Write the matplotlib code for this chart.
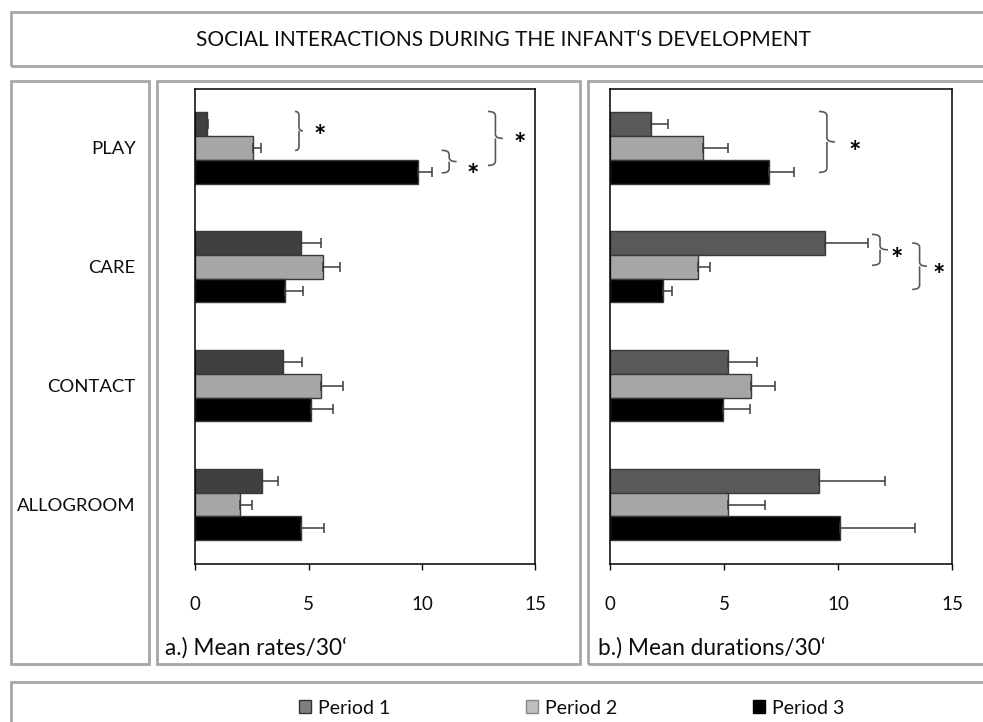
import matplotlib
matplotlib.use("Agg")
import matplotlib.pyplot as plt
from matplotlib.patches import Rectangle, Patch, PathPatch
from matplotlib.path import Path
import numpy as np

plt.rcParams['font.family'] = ['Lato', 'DejaVu Sans']

# ---------------- data ----------------
categories = ["PLAY", "CARE", "CONTACT", "ALLOGROOM"]
periods = ["Period 1", "Period 2", "Period 3"]

rates_p1 = [0.5, 4.65, 3.87, 2.93]
rates_p2 = [2.56, 5.63, 5.54, 1.96]
rates_p3 = [9.81, 3.97, 5.10, 4.65]
rates_err_p1 = [0.07, 0.89, 0.85, 0.72]
rates_err_p2 = [0.34, 0.77, 0.99, 0.54]
rates_err_p3 = [0.63, 0.79, 0.99, 1.03]

dur_p1 = [1.77, 9.40, 5.18, 9.15]
dur_p2 = [4.05, 3.83, 6.17, 5.18]
dur_p3 = [6.95, 2.31, 4.96, 10.06]
dur_err_p1 = [0.75, 1.92, 1.27, 2.88]
dur_err_p2 = [1.10, 0.54, 1.05, 1.59]
dur_err_p3 = [1.12, 0.41, 1.18, 3.29]

x_ticks = [0, 5, 10, 15]
title = "SOCIAL INTERACTIONS DURING THE INFANT\u2018S DEVELOPMENT"
panel_labels = ["a.) Mean rates/30\u2018", "b.) Mean durations/30\u2018"]

# significance braces: (category index, top offset, bottom offset, x_left, x_right, star_x, star_y_offset)
braces_a = [(0, -0.307, 0.021, 4.40, 4.75, 5.50, -0.172),
            (0, 0.020, 0.210, 10.87, 11.53, 12.25, 0.155),
            (0, -0.307, 0.147, 12.91, 13.57, 14.33, -0.105)]
braces_b = [(0, -0.307, 0.206, 9.15, 9.85, 10.73, -0.04),
            (1, -0.273, -0.013, 11.48, 12.18, 12.56, -0.139),
            (1, -0.200, 0.190, 13.24, 13.89, 14.42, -0.004)]

# ---------------- figure ----------------
W, H = 983, 722
fig = plt.figure(figsize=(W / 100, H / 100), dpi=100)
fig.patch.set_facecolor('white')

BOX_C = '#a6a6a6'
TXT_C = '#0d0d0d'


def box(x0, y0, x1, y1):
    fig.add_artist(Rectangle((x0 / W, 1 - y1 / H), (x1 - x0) / W, (y1 - y0) / H,
                             transform=fig.transFigure, fill=False,
                             edgecolor=BOX_C, linewidth=2.0, zorder=0))


box(10.5, 11.7, 995, 65.7)
box(10.5, 80.5, 148.8, 664.3)
box(156.7, 80.5, 580.0, 664.3)
box(588.3, 80.5, 995, 664.3)
box(10.5, 682.3, 995, 740)

fig.text(503.5 / W, 1 - 39.5 / H, title, ha='center', va='center', fontsize=15, color=TXT_C)


def axes_px(x0, y0, x1, y1):
    return fig.add_axes([x0 / W, 1 - y1 / H, (x1 - x0) / W, (y1 - y0) / H])


ax_a = axes_px(195.3, 88.5, 535.3, 564.0)
ax_b = axes_px(610.3, 88.5, 952.3, 564.0)

bar_h = 0.2
offsets = [-0.2, 0.0, 0.2]
ypos = np.arange(len(categories))


def brace(ax, y0, y1, xl, xr, color='#595959'):
    xm = (xl + xr) / 2
    ymid = (y0 + y1) / 2
    r = 0.035
    path = Path([(xl, y0), (xm, y0), (xm, y0 + r),
                 (xm, ymid - r), (xm, ymid), (xr, ymid),
                 (xm, ymid), (xm, ymid + r),
                 (xm, y1 - r), (xm, y1), (xl, y1)],
                [Path.MOVETO, Path.CURVE3, Path.CURVE3,
                 Path.LINETO, Path.CURVE3, Path.CURVE3,
                 Path.MOVETO, Path.LINETO,
                 Path.LINETO, Path.CURVE3, Path.CURVE3])
    ax.add_patch(PathPatch(path, fill=False, edgecolor=color, linewidth=1.2,
                           clip_on=False, capstyle='butt'))


def draw_panel(ax, vals, errs, colors, braces, show_cats):
    for k in range(3):
        zero = [0] * len(categories)
        ax.barh(ypos + offsets[k], vals[k], height=bar_h, color=colors[k],
                edgecolor='#3a3a3a', linewidth=1.0,
                xerr=[zero, errs[k]], error_kw=dict(ecolor='#3a3a3a', elinewidth=1.1,
                                                      capsize=3.5, capthick=1.1),
                label=periods[k], zorder=2)
    ax.set_xlim(0, 15)
    ax.set_ylim(3.5, -0.5)
    ax.set_xticks(x_ticks)
    ax.set_xticklabels([str(t) for t in x_ticks])
    ax.tick_params(axis='x', direction='out', length=4, width=1.0, pad=19,
                   labelsize=13.5, colors=TXT_C)
    if show_cats:
        ax.set_yticks(ypos)
        ax.set_yticklabels(categories)
        ax.tick_params(axis='y', length=0, pad=43, labelsize=13.3, labelcolor=TXT_C)
        for t in ax.get_yticklabels():
            t.set_ha('right')
    else:
        ax.set_yticks([])
    for s in ax.spines.values():
        s.set_linewidth(1.1)
        s.set_color('black')
    for (ci, t, b, xl, xr, sx, sy) in braces:
        brace(ax, ci + t, ci + b, xl, xr)
        ax.annotate('*', xy=(sx, ci + sy), xytext=(0, -7), textcoords='offset points',
                    ha='center', va='center', fontsize=21, fontweight='bold',
                    color='black', annotation_clip=False)


draw_panel(ax_a, [rates_p1, rates_p2, rates_p3],
           [rates_err_p1, rates_err_p2, rates_err_p3],
           ['#404040', '#a6a6a6', '#000000'], braces_a, True)
draw_panel(ax_b, [dur_p1, dur_p2, dur_p3],
           [dur_err_p1, dur_err_p2, dur_err_p3],
           ['#595959', '#a6a6a6', '#000000'], braces_b, False)

fig.text(165 / W, 1 - 648 / H, panel_labels[0], ha='left', va='center', fontsize=16.3, color=TXT_C)
fig.text(598 / W, 1 - 648 / H, panel_labels[1], ha='left', va='center', fontsize=16.3, color=TXT_C)

handles = [Patch(facecolor='#7f7f7f', edgecolor='#333333', linewidth=1.0),
           Patch(facecolor='#bfbfbf', edgecolor='#888888', linewidth=1.0),
           Patch(facecolor='#000000', edgecolor='#000000', linewidth=1.0)]
fig.legend(handles, periods, loc='center left', bbox_to_anchor=(299 / W, 1 - 708 / H),
           ncol=3, frameon=False, fontsize=14, handlelength=0.6, handleheight=0.6,
           handletextpad=0.36, columnspacing=7.0, borderpad=0, borderaxespad=0,
           labelcolor=TXT_C)

fig.savefig('out.png', dpi=100, facecolor='white')
